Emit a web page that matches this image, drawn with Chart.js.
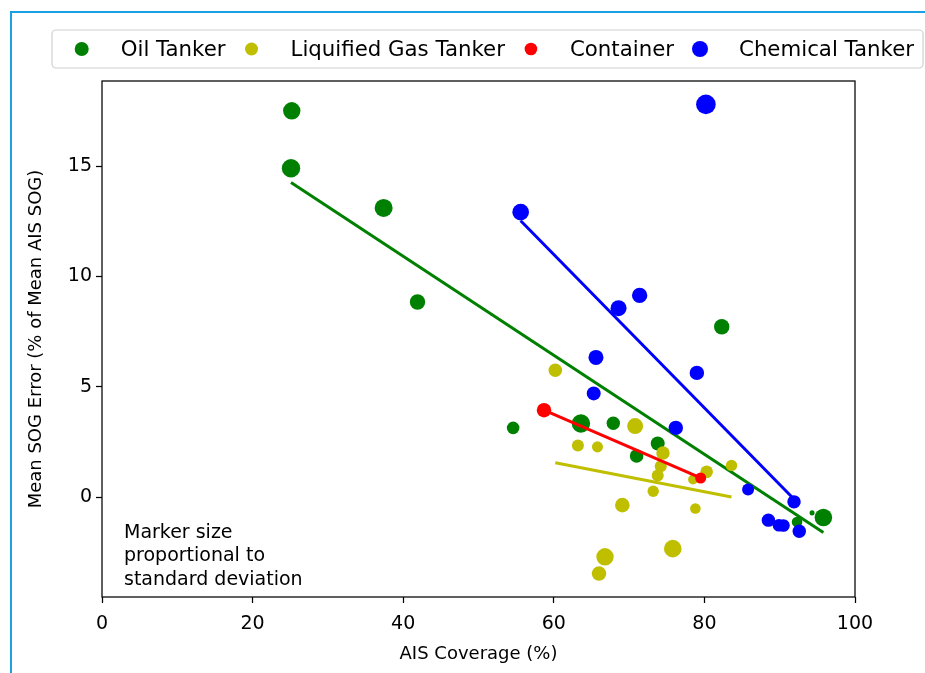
<!DOCTYPE html>
<html>
<head>
<meta charset="utf-8">
<script src="https://cdn.jsdelivr.net/npm/chart.js@4.4.0/dist/chart.umd.min.js"></script>
<style>
  html, body { margin: 0; padding: 0; background: #fff; }
  #wrap { position: relative; width: 925px; height: 673px; overflow: hidden; }
  #frame { position: absolute; left: 10px; top: 11px; width: 960px; height: 700px;
           border-left: 2px solid #1ba1e2; border-top: 2px solid #1ba1e2; }
  canvas { position: absolute; left: 0; top: 0; }
</style>
</head>
<body>
<div id="wrap">
  <div id="frame"></div>
  <canvas id="sogChart" width="925" height="673"></canvas>
</div>
<script>
// ship types, legend order
const shipTypes = ["Oil Tanker", "Liquified Gas Tanker", "Container", "Chemical Tanker"];

// AIS coverage (%), mean SOG error (%), standard deviation (marker size)
const oilX   = [25.2, 25.1, 37.4, 41.9, 82.3, 54.6, 63.6, 67.9, 73.8, 71.0, 94.3, 95.8, 92.3];
const oilY   = [17.5, 14.9, 13.1, 8.84, 7.72, 3.14, 3.34, 3.35, 2.43, 1.87, -0.71, -0.92, -1.12];
const oilStd = [8.4, 9.4, 9.0, 6.6, 6.6, 4.4, 9.4, 5.0, 5.4, 5.1, 0.7, 8.6, 3.1];

const gasX   = [60.2, 70.8, 63.2, 65.8, 74.5, 74.2, 73.8, 73.2, 69.1, 80.3, 78.5, 83.6, 78.8, 75.8, 66.8, 66.0];
const gasY   = [5.75, 3.22, 2.34, 2.28, 2.0, 1.40, 0.98, 0.27, -0.36, 1.15, 0.80, 1.44, -0.51, -2.33, -2.70, -3.46];
const gasStd = [5.1, 7.1, 4.0, 3.4, 5.0, 4.0, 4.0, 3.6, 5.9, 4.4, 2.8, 3.6, 3.1, 8.6, 8.4, 5.8];

const contX   = [58.7, 79.5];
const contY   = [3.94, 0.87];
const contStd = [5.8, 3.4];

const chemX   = [80.2, 55.6, 71.4, 68.6, 65.6, 65.3, 79.0, 76.2, 85.8, 91.9, 88.5, 89.9, 90.5, 92.6];
const chemY   = [17.79, 12.91, 9.14, 8.56, 6.33, 4.70, 5.63, 3.14, 0.35, -0.21, -1.04, -1.27, -1.28, -1.54];
const chemStd = [10.7, 7.7, 6.6, 7.1, 6.3, 5.4, 5.8, 5.8, 4.0, 5.0, 5.0, 4.4, 4.4, 5.0];

const xTicks = [0, 20, 40, 60, 80, 100];
const yTicks = [0, 5, 10, 15];
const noteLines = ["Marker size", "proportional to", "standard deviation"];

const colors = ["#008000", "#bfbf00", "#ff0000", "#0000ff"];
const legendRadius = [7, 6.5, 6.3, 8];
const FONT = "DejaVu Sans";

const series = [
  [oilX, oilY, oilStd],
  [gasX, gasY, gasStd],
  [contX, contY, contStd],
  [chemX, chemY, chemStd]
];

// least squares line between min and max x
function fitLine(xs, ys) {
  const n = xs.length;
  const mx = xs.reduce((a, b) => a + b, 0) / n;
  const my = ys.reduce((a, b) => a + b, 0) / n;
  let sxy = 0, sxx = 0;
  for (let i = 0; i < n; i++) {
    sxy += (xs[i] - mx) * (ys[i] - my);
    sxx += (xs[i] - mx) * (xs[i] - mx);
  }
  const k = sxy / sxx, b = my - k * mx;
  const x0 = Math.min(...xs), x1 = Math.max(...xs);
  return [{x: x0, y: k * x0 + b}, {x: x1, y: k * x1 + b}];
}

const datasets = [];
series.forEach((s, i) => {
  datasets.push({
    label: shipTypes[i],
    data: s[0].map((x, j) => ({x: x, y: s[1][j]})),
    backgroundColor: colors[i],
    borderWidth: 0,
    pointRadius: s[2].map(v => 3 * Math.sqrt(v)),
    order: 20 - 2 * i
  });
  datasets.push({
    label: shipTypes[i] + " fit",
    type: "line",
    data: fitLine(s[0], s[1]),
    borderColor: colors[i],
    borderWidth: 3,
    pointRadius: 0,
    fill: false,
    order: 19 - 2 * i
  });
});

// frame, note and legend
const decor = {
  id: "decor",
  afterDraw(chart) {
    const ctx = chart.ctx;
    const a = chart.chartArea;
    ctx.save();
    ctx.strokeStyle = "#000";
    ctx.lineWidth = 1.25;
    ctx.strokeRect(a.left, a.top, a.right - a.left, a.bottom - a.top);

    ctx.fillStyle = "#000";
    ctx.font = "19px '" + FONT + "'";
    ctx.textBaseline = "alphabetic";
    noteLines.forEach((t, i) => ctx.fillText(t, a.left + 22, a.bottom - 59 + i * 23.4));

    // legend
    ctx.font = "21.3px '" + FONT + "'";
    ctx.textBaseline = "middle";
    const cy = 49;
    let cx = 81.7;
    const items = [];
    shipTypes.forEach((t, i) => {
      const w = ctx.measureText(t).width;
      items.push({cx: cx, tx: cx + 39, w: w});
      cx = cx + 39 + w + 26;
    });
    const last = items[items.length - 1];
    const fx0 = 52, fx1 = last.tx + last.w + 9, fy0 = 30, fy1 = 68;
    ctx.beginPath();
    ctx.roundRect(fx0, fy0, fx1 - fx0, fy1 - fy0, 4);
    ctx.fillStyle = "rgba(255,255,255,0.8)";
    ctx.fill();
    ctx.strokeStyle = "#d0d0d0";
    ctx.lineWidth = 1.2;
    ctx.stroke();
    items.forEach((it, i) => {
      ctx.beginPath();
      ctx.arc(it.cx, cy, legendRadius[i], 0, Math.PI * 2);
      ctx.fillStyle = colors[i];
      ctx.fill();
      ctx.fillStyle = "#000";
      ctx.fillText(shipTypes[i], it.tx, cy + 1);
    });
    ctx.restore();
  }
};

const tickFont = {family: FONT, size: 19};
const titleFont = {family: FONT, size: 18};
const gridOpts = {display: true, drawOnChartArea: false, drawTicks: true, tickLength: 6, tickColor: "#000", tickWidth: 1.25};

new Chart(document.getElementById("sogChart"), {
  type: "scatter",
  data: {datasets: datasets},
  options: {
    responsive: false,
    animation: false,
    events: [],
    layout: {padding: {top: 81, right: 70, bottom: 0, left: 0}},
    plugins: {legend: {display: false}, tooltip: {enabled: false}},
    scales: {
      x: {
        type: "linear",
        min: 0,
        max: 100,
        afterBuildTicks: s => { s.ticks = xTicks.map(v => ({value: v})); },
        afterFit: s => { s.height = 76; },
        ticks: {color: "#000", font: tickFont, padding: 10, maxRotation: 0, autoSkip: false},
        grid: gridOpts,
        border: {display: false},
        title: {display: true, text: "AIS Coverage (%)", color: "#000", font: titleFont, padding: {top: 0, bottom: 8}}
      },
      y: {
        type: "linear",
        min: -4.52,
        max: 18.85,
        afterBuildTicks: s => { s.ticks = yTicks.map(v => ({value: v})); },
        afterFit: s => { s.width = 102; },
        ticks: {color: "#000", font: tickFont, padding: 4, autoSkip: false},
        grid: gridOpts,
        border: {display: false},
        title: {display: true, text: "Mean SOG Error (% of Mean AIS SOG)", color: "#000", font: titleFont, padding: {top: 26, bottom: 0}}
      }
    }
  },
  plugins: [decor]
});
</script>
</body>
</html>
